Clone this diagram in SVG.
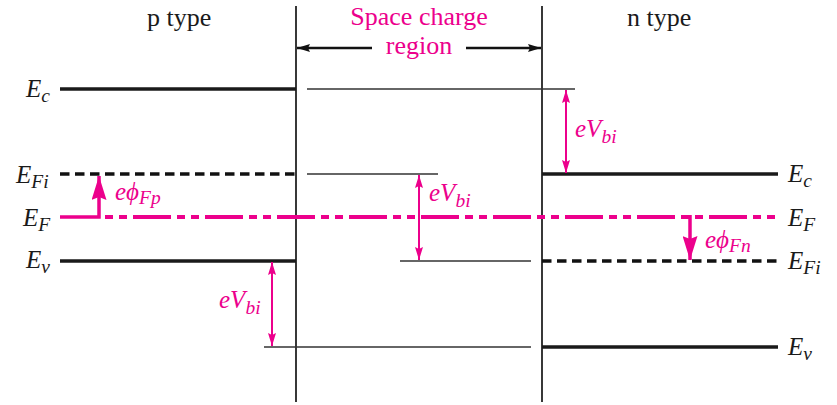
<svg xmlns="http://www.w3.org/2000/svg" width="837" height="405" viewBox="0 0 837 405">
<style>
.bg{fill:#fff}
text{font-family:'Liberation Serif','Times New Roman',Times,'DejaVu Serif',serif}
.title{font-size:26px;fill:#1a1a1a}
.pink{fill:#ec008c}
.lbl{font-style:italic;font-size:25px;fill:#1a1a1a}
.sub{font-size:19.5px}
.plbl{font-style:italic;font-size:25px;fill:#ec008c}
.thick{stroke:#1a1a1a;stroke-width:3.5;fill:none}
.thin{stroke:#333;stroke-width:1.6;fill:none}
.dash{stroke:#111;stroke-width:3.5;stroke-dasharray:9.5 5.5;fill:none}
.wall{stroke:#222;stroke-width:1.8;fill:none}
.ef{stroke:#ec008c;stroke-width:4;fill:none;stroke-dasharray:8 6 8 6 38 6}
.parr{stroke:#ec008c;stroke-width:2;fill:none}
.pbig{stroke:#ec008c;stroke-width:3.5;fill:none}
.barr{stroke:#111;stroke-width:2.5;fill:none}
</style>
<defs>
<marker id="ph" viewBox="0 0 13 8" refX="13" refY="4" markerWidth="13" markerHeight="8" markerUnits="userSpaceOnUse" orient="auto-start-reverse">
<path d="M0,0 L13,4 L0,8 L2,4 z" fill="#ec008c"/>
</marker>
<marker id="pbh" viewBox="0 0 24 15" refX="24" refY="7.5" markerWidth="24" markerHeight="15" markerUnits="userSpaceOnUse" orient="auto">
<path d="M0,0 L24,7.5 L0,15 L3,7.5 z" fill="#ec008c"/>
</marker>
<marker id="bh" viewBox="0 0 13 8" refX="13" refY="4" markerWidth="13" markerHeight="8" markerUnits="userSpaceOnUse" orient="auto">
<path d="M0,0 L13,4 L0,8 L2,4 z" fill="#111"/>
</marker>
</defs>
<rect class="bg" x="0" y="0" width="837" height="405"/>

<g id="titles">
<text class="title" x="147" y="26">p type</text>
<text class="title" x="627" y="26">n type</text>
<text class="title pink" x="419" y="25" text-anchor="middle">Space charge</text>
<text class="title pink" x="419" y="54" text-anchor="middle">region</text>
</g>

<g id="walls">
<line class="wall" x1="296" y1="6" x2="296" y2="402"/>
<line class="wall" x1="542" y1="6" x2="542" y2="402"/>
</g>

<g id="p-side">
<line class="thick" x1="60" y1="89" x2="296" y2="89"/>
<line class="dash" x1="60" y1="174" x2="296" y2="174"/>
<line class="thick" x1="60" y1="261" x2="296" y2="261"/>
<text class="lbl" x="26" y="97">E<tspan class="sub" dy="5">c</tspan></text>
<text class="lbl" x="16" y="183">E<tspan class="sub" dy="5">Fi</tspan></text>
<text class="lbl" x="23" y="226">E<tspan class="sub" dy="5">F</tspan></text>
<text class="lbl" x="26" y="268">E<tspan class="sub" dy="5">v</tspan></text>
</g>

<g id="junction">
<line class="thin" x1="307" y1="89" x2="575" y2="89"/>
<line class="thin" x1="307" y1="174" x2="438" y2="174"/>
<line class="thin" x1="400" y1="261" x2="531" y2="261"/>
<line class="thin" x1="264" y1="347" x2="531" y2="347"/>
</g>

<g id="n-side">
<line class="thick" x1="542" y1="174" x2="778" y2="174"/>
<line class="dash" x1="542" y1="261" x2="778" y2="261"/>
<line class="thick" x1="542" y1="347" x2="778" y2="347"/>
<text class="lbl" x="788" y="182">E<tspan class="sub" dy="5">c</tspan></text>
<text class="lbl" x="788" y="226">E<tspan class="sub" dy="5">F</tspan></text>
<text class="lbl" x="788" y="269">E<tspan class="sub" dy="5">Fi</tspan></text>
<text class="lbl" x="788" y="355">E<tspan class="sub" dy="5">v</tspan></text>
</g>

<g id="fermi-level">
<line class="ef" x1="105" y1="217" x2="778" y2="217"/>
</g>

<g id="connectors">
<line class="barr" x1="372" y1="48" x2="297" y2="48" marker-end="url(#bh)"/>
<line class="barr" x1="466" y1="48" x2="541" y2="48" marker-end="url(#bh)"/>
<line class="parr" x1="566" y1="90" x2="566" y2="173" marker-start="url(#ph)" marker-end="url(#ph)"/>
<line class="parr" x1="419" y1="175" x2="419" y2="260" marker-start="url(#ph)" marker-end="url(#ph)"/>
<line class="parr" x1="272" y1="262" x2="272" y2="346" marker-start="url(#ph)" marker-end="url(#ph)"/>
<path class="pbig" d="M60,217 H99 V176" marker-end="url(#pbh)"/>
<path class="pbig" d="M690,215 V260" marker-end="url(#pbh)"/>
</g>

<g id="labels">
<text class="plbl" x="575" y="137">eV<tspan class="sub" dy="6">bi</tspan></text>
<text class="plbl" x="429" y="201">eV<tspan class="sub" dy="6">bi</tspan></text>
<text class="plbl" x="219" y="308">eV<tspan class="sub" dy="6">bi</tspan></text>
<text class="plbl" x="115" y="200">eϕ<tspan class="sub" dy="4">Fp</tspan></text>
<text class="plbl" x="705" y="248">eϕ<tspan class="sub" dy="4">Fn</tspan></text>
</g>
</svg>
